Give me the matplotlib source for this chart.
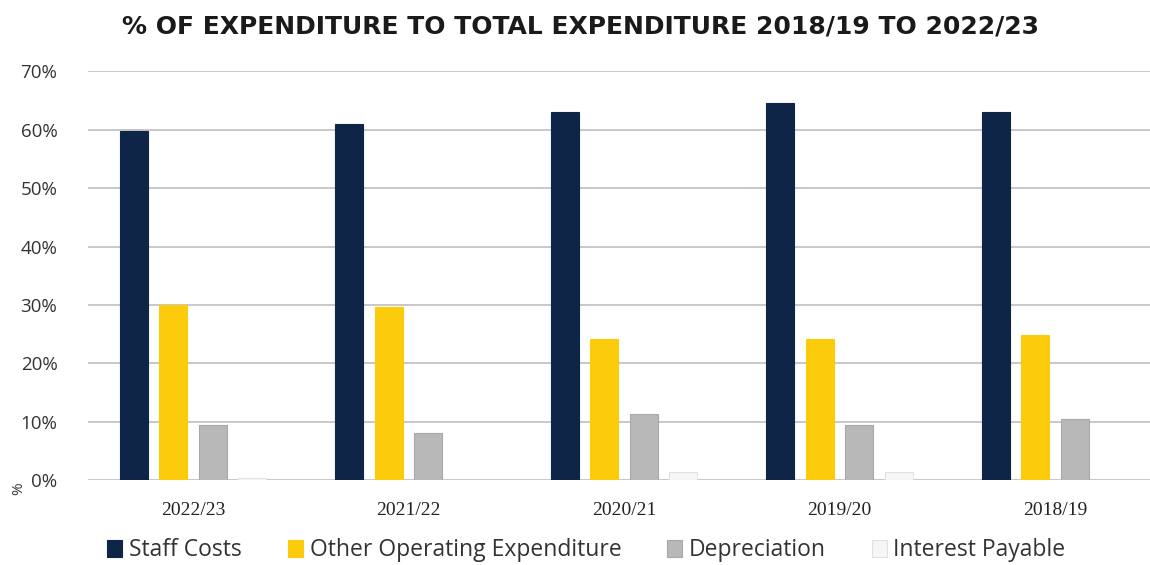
import matplotlib
matplotlib.use("Agg")
import matplotlib.pyplot as plt
import numpy as np

categories = ["2022/23", "2021/22", "2020/21", "2019/20", "2018/19"]
staff_costs = [59.7, 61.0, 63.0, 64.5, 63.1]
other_operating = [30.0, 29.6, 24.2, 24.1, 24.9]
depreciation = [9.4, 8.1, 11.3, 9.4, 10.4]
interest_payable = [0.3, 0.0, 1.4, 1.4, 0.1]

series_names = ["Staff Costs", "Other Operating Expenditure", "Depreciation", "Interest Payable"]
series_values = [staff_costs, other_operating, depreciation, interest_payable]
colors = ["#0f2548", "#fccb0b", "#b8b8b8", "#f6f6f6"]
edges = ["#0f2548", "#fccb0b", "#a8a8a8", "#e2e2e2"]

fig = plt.figure(figsize=(11.5, 5.65), dpi=100)
ax = fig.add_axes([0.0765, 0.150, 0.9235, 0.724])

x = np.arange(len(categories))
width = 0.13
step = 0.183
for i, (name, vals) in enumerate(zip(series_names, series_values)):
    offs = (i - 1.5) * step
    ax.bar(x + offs, np.array(vals) / 100.0, width=width, color=colors[i],
           edgecolor=edges[i], linewidth=0.8, label=name, zorder=3)

ax.set_xlim(-0.487, 4.44)
ax.set_ylim(0, 0.70)
yt = np.arange(0, 0.71, 0.10)
ax.set_yticks(yt)
ax.set_yticklabels([f"{int(round(v*100))}%" for v in yt],
                   fontsize=13.5, family="Open Sans", color="#333333")
ax.set_xticks(x)
ax.set_xticklabels(categories, fontsize=14, family="Liberation Serif", color="#222222")
ax.tick_params(axis="both", length=0)
ax.tick_params(axis="y", pad=22)
ax.tick_params(axis="x", pad=16)
ax.grid(axis="y", color="#c4c4c4", linewidth=1.3, zorder=0)
for s in ax.spines.values():
    s.set_visible(False)

fig.text(0.016, 0.135, "%", rotation=90, fontsize=11, family="Open Sans",
         color="#333333", ha="center", va="center")

fig.suptitle("% OF EXPENDITURE TO TOTAL EXPENDITURE 2018/19 TO 2022/23",
             x=0.505, y=0.975, fontsize=18, fontweight="bold",
             family=["DejaVu Sans Condensed", "Liberation Sans Narrow", "DejaVu Sans"],
             color="#1a1a1a")

leg = fig.legend(loc="center", bbox_to_anchor=(0.51, 0.026), ncol=4, frameon=False,
                 handlelength=0.65, handleheight=0.75, columnspacing=2.0,
                 handletextpad=0.3, prop={"family": "Open Sans", "size": 16.5})
for t in leg.get_texts():
    t.set_color("#333333")

fig.savefig("out.png", dpi=100, facecolor="white")
